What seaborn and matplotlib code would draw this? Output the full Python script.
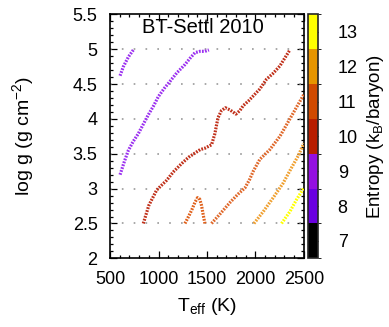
import numpy as np
import pandas as pd
import seaborn as sns
import matplotlib
matplotlib.use("Agg")
import matplotlib.pyplot as plt
from matplotlib.colors import ListedColormap, BoundaryNorm
from matplotlib.cm import ScalarMappable
from matplotlib.ticker import MultipleLocator

# iso-entropy tracks (T_eff in K, log g)
teff_a = [603, 637, 689, 740]
logg_a = [4.62, 4.75, 4.89, 4.99]

teff_b = [603, 650, 689, 740, 792, 845, 895, 950, 998, 1060, 1119, 1188, 1273, 1325, 1376, 1428, 1479, 1520]
logg_b = [3.20, 3.40, 3.55, 3.68, 3.79, 3.93, 4.06, 4.19, 4.32, 4.44, 4.54, 4.66, 4.78, 4.87, 4.95, 4.97, 4.97, 4.99]

teff_c = [843, 900, 981, 1084, 1153, 1239, 1310, 1376, 1430, 1479, 1548, 1582, 1600, 1615, 1650, 1690,
          1737, 1799, 1840, 1874, 1930, 1978, 2046, 2115, 2180, 2253, 2356]
logg_c = [2.50, 2.76, 2.98, 3.12, 3.24, 3.36, 3.45, 3.51, 3.56, 3.58, 3.63, 3.79, 3.92, 4.02, 4.12, 4.16,
          4.13, 4.07, 4.12, 4.19, 4.26, 4.33, 4.43, 4.57, 4.65, 4.76, 4.99]

teff_d = [1273, 1310, 1342, 1375, 1403, 1425, 1444, 1462, 1479]
logg_d = [2.50, 2.60, 2.69, 2.80, 2.87, 2.85, 2.76, 2.62, 2.50]

teff_e = [1547, 1650, 1737, 1820, 1892, 1940, 1978, 2046, 2149, 2253, 2356, 2442, 2500]
logg_e = [2.50, 2.66, 2.80, 2.92, 3.01, 3.13, 3.25, 3.42, 3.56, 3.75, 4.00, 4.21, 4.35]

teff_f = [1985, 2081, 2184, 2287, 2373, 2442, 2500]
logg_f = [2.50, 2.67, 2.87, 3.08, 3.30, 3.47, 3.65]

teff_g = [2270, 2356, 2424, 2500]
logg_g = [2.50, 2.67, 2.84, 3.01]

curve_colors = ["#9B30F0", "#9B30F0", "#C0301A", "#E0601A", "#E0682A", "#F0A030", "#FFFF00"]

# entropy colour bar
entropy_levels = [7, 8, 9, 10, 11, 12, 13]
entropy_colors = ["#000000", "#6A00E0", "#9410E0", "#B81E00", "#D04A00", "#E69500", "#FFFF00"]

sns.set_style("ticks")
plt.rcParams["font.family"] = ["Liberation Sans", "DejaVu Sans"]
plt.rcParams["mathtext.fontset"] = "custom"
plt.rcParams["mathtext.rm"] = "Liberation Sans"
for key in ["text.color", "axes.labelcolor", "xtick.color", "ytick.color", "xtick.labelcolor", "ytick.labelcolor"]:
    plt.rcParams[key] = "black"

fig = plt.figure(figsize=(3.89, 3.27), dpi=100)
ax = fig.add_axes([0.283, 0.21, 0.498, 0.746])
cax = fig.add_axes([0.792, 0.21, 0.026, 0.746])

curves = [(teff_a, logg_a), (teff_b, logg_b), (teff_c, logg_c), (teff_d, logg_d),
          (teff_e, logg_e), (teff_f, logg_f), (teff_g, logg_g)]
for (t, g), col in zip(curves, curve_colors):
    df = pd.DataFrame({"teff": t, "logg": g})
    sns.lineplot(data=df, x="teff", y="logg", sort=False, ax=ax, color=col,
                 lw=2.3, linestyle=(0, (0.55, 0.4)), zorder=3)

ax.set_xlim(500, 2500)
ax.set_ylim(2, 5.5)
ax.xaxis.set_major_locator(MultipleLocator(500))
ax.xaxis.set_minor_locator(MultipleLocator(100))
ax.yaxis.set_major_locator(MultipleLocator(0.5))
ax.yaxis.set_minor_locator(MultipleLocator(0.1))
ax.set_yticks([2, 2.5, 3, 3.5, 4, 4.5, 5, 5.5])
ax.set_yticklabels(["2", "2.5", "3", "3.5", "4", "4.5", "5", "5.5"])
ax.tick_params(which="both", direction="in", top=True, right=True, labelsize=13, width=0.9, color="black")
ax.tick_params(which="major", length=5, pad=9)
ax.tick_params(which="minor", length=2.5)
for s in ax.spines.values():
    s.set_linewidth(1.2)
    s.set_color("black")

for yv in [2.5, 3, 3.5, 4, 4.5, 5]:
    ax.axhline(yv, color="#999999", lw=1.2, ls=(0, (1, 6.1)), zorder=1)

ax.set_xlabel("T$_\\mathregular{eff}$ (K)", fontsize=14, labelpad=6)
ax.set_ylabel("log g (g cm$^\\mathregular{-2}$)", fontsize=14, labelpad=26)
ax.text(0.48, 0.945, "BT-Settl 2010", transform=ax.transAxes, ha="center", va="center", fontsize=14.5)

cmap = ListedColormap(entropy_colors)
norm = BoundaryNorm([v - 0.5 for v in entropy_levels] + [entropy_levels[-1] + 0.5], cmap.N)
cb = fig.colorbar(ScalarMappable(norm=norm, cmap=cmap), cax=cax, ticks=entropy_levels)
cb.outline.set_linewidth(1.2)
cax.tick_params(direction="in", length=5, left=True, right=True, labelsize=13, pad=14, color="black")
cb.set_label("Entropy (k$_\\mathregular{B}$/baryon)", fontsize=13.5, labelpad=5)

fig.savefig("out.png", dpi=100)
